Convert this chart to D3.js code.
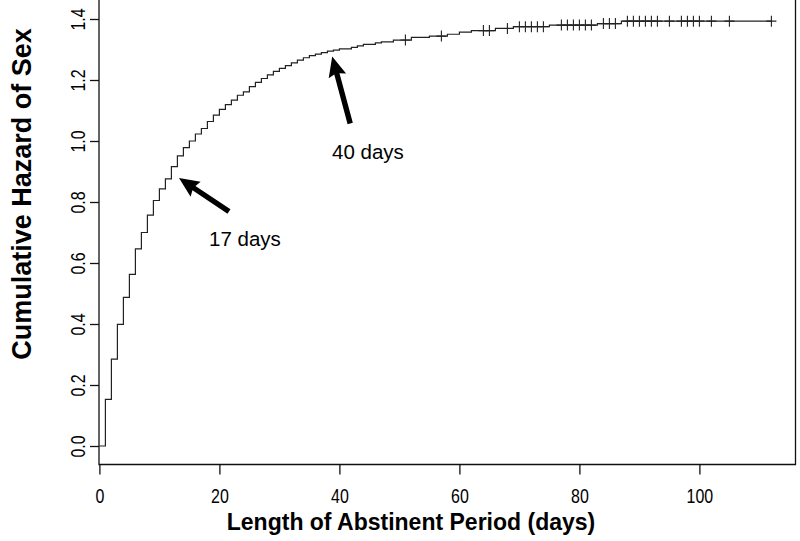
<!DOCTYPE html>
<html>
<head>
<meta charset="utf-8">
<script src="https://cdn.jsdelivr.net/npm/d3@7"></script>
<style>
  html, body { margin: 0; padding: 0; background: #fff; }
  svg { display: block; }
  text { font-family: "Liberation Sans", Arial, Helvetica, sans-serif; fill: #000; }
</style>
</head>
<body>
<svg id="chart" width="800" height="541"></svg>
<script>
// ---- data ----
const eventDays = [1,2,3,4,5,6,7,8,9,10,11,12,13,14,15,16,17,18,19,20,
  21,22,23,24,25,26,27,28,29,30,31,32,33,34,35,36,37,38,39,40,
  42,43,44,46,47,49,52,55,58,60,62,66,69,75,83,87];
const cumHazard = [0.153,0.285,0.399,0.487,0.563,0.646,0.700,0.757,0.805,0.843,
  0.876,0.916,0.951,0.978,1.000,1.023,1.041,1.064,1.085,1.104,
  1.119,1.134,1.150,1.161,1.178,1.192,1.205,1.217,1.228,1.238,
  1.247,1.256,1.265,1.273,1.280,1.285,1.290,1.295,1.298,1.302,
  1.307,1.312,1.317,1.322,1.325,1.331,1.340,1.344,1.350,1.357,
  1.362,1.369,1.375,1.380,1.385,1.393];
const censorDays = [51,57,64,65,68,70,71,72,73,74,77,78,79,80,81,82,84,85,86,
  88,89,90,91,92,93,95,97,98,99,100,102,105,112];
const lastDay = 112;
const xTicks = [0,20,40,60,80,100];
const yTicks = [0,0.2,0.4,0.6,0.8,1.0,1.2,1.4];
const xTitle = "Length of Abstinent Period (days)";
const yTitle = "Cumulative Hazard of Sex";
const annotations = [
  {label: "17 days", day: 13.1, value: 0.88},
  {label: "40 days", day: 38.8, value: 1.277}
];

// ---- layout ----
const svg = d3.select("#chart");
const x = d3.scaleLinear().domain([0, 116]).range([99.4, 795.4]);
const y = d3.scaleLinear().domain([0, 1.4]).range([446, 19]);
const box = {left: 99, right: 795.5, top: -2, bottom: 464.5};

// box (top edge lies outside the picture)
svg.append("path")
  .attr("d", `M${box.left},${box.top}V${box.bottom}H${box.right}V${box.top}`)
  .attr("fill", "none").attr("stroke", "#111").attr("stroke-width", 1.3);

// x axis
const xAxis = svg.append("g").attr("transform", `translate(0,${box.bottom})`)
  .call(d3.axisBottom(x).tickValues(xTicks).tickSize(10).tickPadding(14).tickFormat(d3.format("d")));
xAxis.select(".domain").remove();
xAxis.selectAll("line").attr("stroke", "#111").attr("stroke-width", 1.3);
xAxis.selectAll("text").attr("font-size", 21).attr("fill", "#000")
  .attr("font-family", '"Liberation Sans", Arial, sans-serif');

// y axis
const yAxis = svg.append("g").attr("transform", `translate(${box.left},0)`)
  .call(d3.axisLeft(y).tickValues(yTicks).tickSize(9).tickFormat(d3.format(".1f")));
yAxis.select(".domain").remove();
yAxis.selectAll("line").attr("stroke", "#111").attr("stroke-width", 1.3);
yAxis.selectAll("text")
  .attr("font-size", 21).attr("fill", "#000")
  .attr("font-family", '"Liberation Sans", Arial, sans-serif')
  .attr("x", null).attr("dy", null)
  .attr("text-anchor", "middle")
  .attr("transform", "translate(-14,0) rotate(-90)");

// narrow tick labels
svg.selectAll(".tick text").each(function() {
  const w = this.getComputedTextLength();
  d3.select(this).attr("textLength", w * 0.76).attr("lengthAdjust", "spacingAndGlyphs");
});

// step curve
const pts = [[0, 0]].concat(eventDays.map((d, i) => [d, cumHazard[i]]));
pts.push([lastDay, cumHazard[cumHazard.length - 1]]);
const line = d3.line().x(d => x(d[0])).y(d => y(d[1])).curve(d3.curveStepAfter);
svg.append("path").datum(pts).attr("d", line)
  .attr("fill", "none").attr("stroke", "#222").attr("stroke-width", 1.2);

// censor marks
function hazardAt(t) {
  const i = d3.bisectRight(eventDays, t);
  return i === 0 ? 0 : cumHazard[i - 1];
}
svg.append("g").selectAll("path").data(censorDays).join("path")
  .attr("d", d => {
    const cx = x(d), cy = y(hazardAt(d));
    return `M${cx - 5},${cy}H${cx + 5}M${cx},${cy - 5.5}V${cy + 5.5}`;
  })
  .attr("stroke", "#222").attr("stroke-width", 1.1).attr("fill", "none");

// arrows + labels
function arrow(x0, y0, x1, y1) {
  const dx = x1 - x0, dy = y1 - y0, L = Math.hypot(dx, dy);
  const ux = dx / L, uy = dy / L, px = -uy, py = ux;
  const hl = 20, hw = 9, sw = 2.7;
  const bx = x1 - ux * hl, by = y1 - uy * hl;
  const p = [
    [x0 + px * sw, y0 + py * sw],
    [bx + ux * 2 + px * sw, by + uy * 2 + py * sw],
    [bx + px * hw, by + py * hw],
    [x1, y1],
    [bx - px * hw, by - py * hw],
    [bx + ux * 2 - px * sw, by + uy * 2 - py * sw],
    [x0 - px * sw, y0 - py * sw]
  ];
  svg.append("path").attr("d", "M" + p.map(q => q.join(",")).join("L") + "Z")
    .attr("fill", "#000");
}
const a1 = annotations[0];
arrow(x(a1.day) + 51, y(a1.value) + 34, x(a1.day) + 1, y(a1.value) + 0.5);
svg.append("text").attr("x", 209).attr("y", 246).attr("font-size", 20.5).text(a1.label);
const a2 = annotations[1];
arrow(x(a2.day) + 18, y(a2.value) + 67, x(a2.day) + 0, y(a2.value) + 0);
svg.append("text").attr("x", 332).attr("y", 159).attr("font-size", 20.5).text(a2.label);

// axis titles
svg.append("text").attr("x", 411).attr("y", 530)
  .attr("text-anchor", "middle").attr("font-size", 23).attr("font-weight", "bold")
  .text(xTitle);
svg.append("text")
  .attr("transform", "translate(31,194) rotate(-90)")
  .attr("text-anchor", "middle").attr("font-size", 27).attr("font-weight", "bold")
  .text(yTitle);
</script>
</body>
</html>
